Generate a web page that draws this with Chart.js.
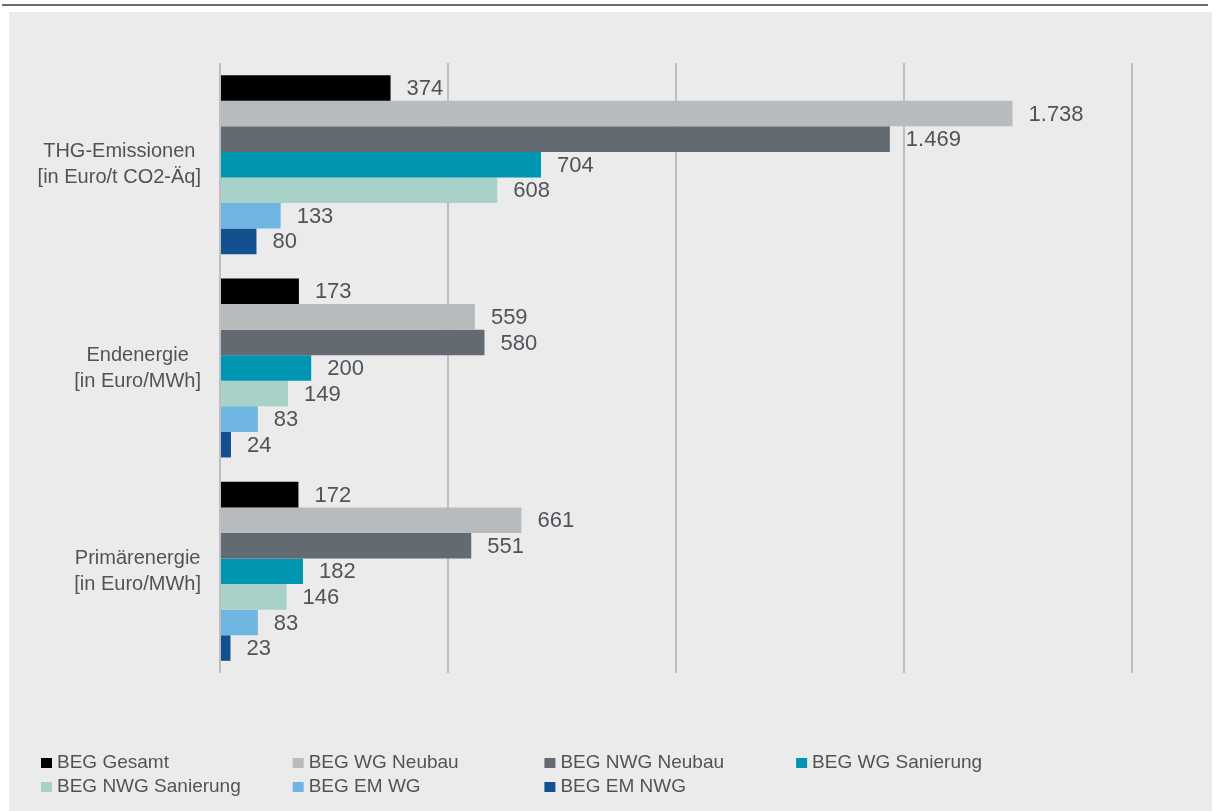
<!DOCTYPE html>
<html>
<head>
<meta charset="utf-8">
<script src="https://cdn.jsdelivr.net/npm/chart.js@4.4.1/dist/chart.umd.min.js"></script>
<style>
  html, body { margin: 0; padding: 0; background: #fff; }
  #topline { position: absolute; left: 2px; top: 4px; width: 1206px; height: 2px; background: #6a6e73; }
  #panel { position: absolute; left: 9px; top: 12px; width: 1203px; height: 799px; background: #ebebeb; }
  #chart { position: absolute; left: 0; top: 0; }
</style>
</head>
<body>
<div id="topline"></div>
<div id="panel"></div>
<canvas id="chart" width="1216" height="811"></canvas>
<script>
var categories = [
  ["THG-Emissionen", "[in Euro/t CO2-Äq]"],
  ["Endenergie", "[in Euro/MWh]"],
  ["Primärenergie", "[in Euro/MWh]"]
];
var seriesNames = ["BEG Gesamt", "BEG WG Neubau", "BEG NWG Neubau", "BEG WG Sanierung",
                   "BEG NWG Sanierung", "BEG EM WG", "BEG EM NWG"];
var seriesColors = ["#000000", "#b7bbbe", "#646a72", "#0096b1", "#a8d2c7", "#6eb6e1", "#13508f"];

var begGesamt       = [374, 173, 172];
var begWgNeubau     = [1738, 559, 661];
var begNwgNeubau    = [1469, 580, 551];
var begWgSanierung  = [704, 200, 182];
var begNwgSanierung = [608, 149, 146];
var begEmWg         = [133, 83, 83];
var begEmNwg        = [80, 24, 23];

var seriesValues = [begGesamt, begWgNeubau, begNwgNeubau, begWgSanierung,
                    begNwgSanierung, begEmWg, begEmNwg];

var textColor = "#505459";

function fmt(v) {
  return String(v).replace(/\B(?=(\d{3})+(?!\d))/g, ".");
}

var labelPlugin = {
  id: "labels",
  afterDatasetsDraw: function(chart) {
    var ctx = chart.ctx;
    ctx.save();
    ctx.font = "22px 'Liberation Sans', Arial, sans-serif";
    ctx.fillStyle = textColor;
    ctx.textAlign = "left";
    ctx.textBaseline = "middle";
    chart.data.datasets.forEach(function(ds, i) {
      chart.getDatasetMeta(i).data.forEach(function(bar, j) {
        ctx.fillText(fmt(ds.data[j]), bar.x + 16, bar.y + 1);
      });
    });
    ctx.restore();
  },
  afterDraw: function(chart) {
    var ctx = chart.ctx;
    var yScale = chart.scales.y;
    ctx.save();
    // category labels: block right aligned, lines centered
    ctx.font = "20px 'Liberation Sans', Arial, sans-serif";
    ctx.fillStyle = textColor;
    ctx.textAlign = "center";
    ctx.textBaseline = "middle";
    categories.forEach(function(lines, i) {
      var w = 0;
      lines.forEach(function(l) { w = Math.max(w, ctx.measureText(l).width); });
      var cx = 201 - w / 2;
      var cy = yScale.getPixelForValue(i);
      lines.forEach(function(l, k) {
        ctx.fillText(l, cx, cy + (k - (lines.length - 1) / 2) * 26);
      });
    });
    // legend, 4 columns x 2 rows
    ctx.font = "19px 'Liberation Sans', Arial, sans-serif";
    ctx.textAlign = "left";
    seriesNames.forEach(function(name, i) {
      var col = i % 4, row = Math.floor(i / 4);
      var x = 41 + col * 251.7;
      var y = 763 + row * 24;
      ctx.fillStyle = seriesColors[i];
      ctx.fillRect(x, y - 5, 11, 10);
      ctx.fillStyle = textColor;
      ctx.fillText(name, x + 16, y);
    });
    ctx.restore();
  }
};

new Chart(document.getElementById("chart"), {
  type: "bar",
  data: {
    labels: categories,
    datasets: seriesNames.map(function(name, i) {
      return {
        label: name,
        data: seriesValues[i],
        backgroundColor: seriesColors[i],
        borderWidth: 0,
        categoryPercentage: 0.88,
        barPercentage: 1.0
      };
    })
  },
  options: {
    indexAxis: "y",
    responsive: false,
    animation: false,
    layout: { padding: { left: 220, right: 84, top: 63, bottom: 138 } },
    scales: {
      x: {
        min: 0,
        max: 2000,
        ticks: { display: false, stepSize: 500 },
        grid: { color: "#bcbec0", lineWidth: 2, drawTicks: false },
        border: { display: false }
      },
      y: {
        display: false
      }
    },
    plugins: {
      legend: { display: false },
      tooltip: { enabled: false }
    }
  },
  plugins: [labelPlugin]
});
</script>
</body>
</html>
